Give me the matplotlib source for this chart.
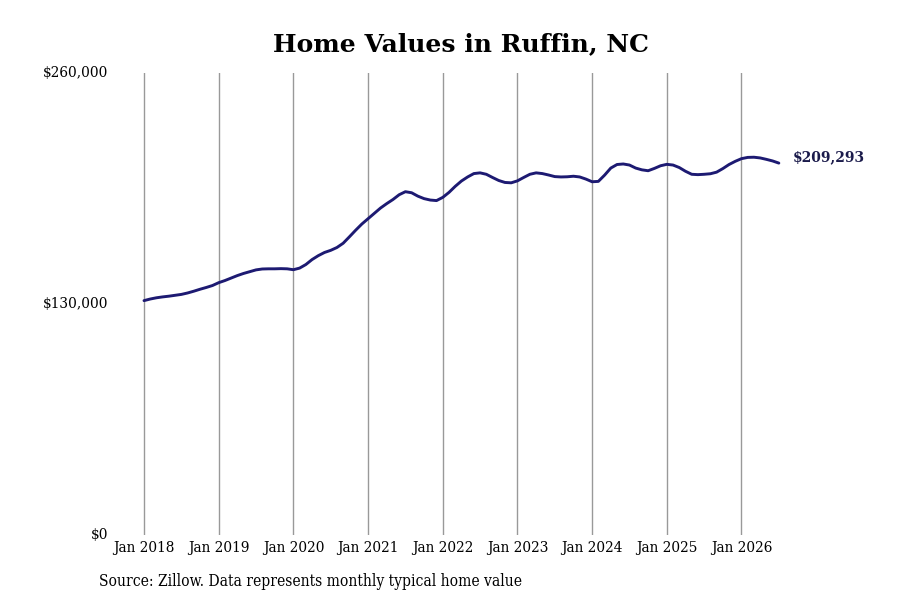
import matplotlib
matplotlib.use("Agg")
import matplotlib.pyplot as plt
from matplotlib import font_manager as fm

# Monthly typical home values, Jan 2018 .. Jul 2026
values = [
    131900, 132800, 133500, 134000, 134400, 134900, 135400, 136200, 137200, 138300, 139300, 140400,
    142000, 143200, 144600, 146000, 147200, 148200, 149200, 149700, 149800, 149800, 149900, 149800,
    149300, 150200, 152200, 155000, 157200, 159000, 160200, 161800, 164200, 167800, 171500, 175000,
    178000, 181000, 184000, 186500, 188800, 191500, 193200, 192600, 190700, 189300, 188500, 188200,
    190000, 192800, 196200, 199200, 201500, 203400, 203800, 203000, 201200, 199500, 198400, 198200,
    199300, 201200, 203000, 203800, 203400, 202600, 201700, 201500, 201600, 201900, 201500, 200300,
    198800, 199000, 202500, 206500, 208500, 208800, 208200, 206500, 205500, 205000, 206300, 207800,
    208600, 208200, 206800, 204700, 203000, 202800, 203000, 203300, 204200, 206200, 208500, 210300,
    211800, 212500, 212600, 212200, 211400, 210500, 209293,
]
tick_labels = ["Jan 2018", "Jan 2019", "Jan 2020", "Jan 2021", "Jan 2022",
               "Jan 2023", "Jan 2024", "Jan 2025", "Jan 2026"]
y_ticks = [0, 130000, 260000]
y_tick_labels = ["$0", "$130,000", "$260,000"]
end_label = "$209,293"
title = "Home Values in Ruffin, NC"
source = "Source: Zillow. Data represents monthly typical home value"

names = {f.name for f in fm.fontManager.ttflist}
cond = "DejaVu Serif Condensed" if "DejaVu Serif Condensed" in names else "DejaVu Serif"
serif = ["DejaVu Serif"]

fig = plt.figure(figsize=(9, 6), dpi=100)
W, H = 900, 600
left, right, top, bottom = 115, 800, 73, 535
ax = fig.add_axes([left / W, 1 - bottom / H, (right - left) / W, (bottom - top) / H])

x = list(range(len(values)))
ax.plot(x, values, color="#1d1a72", lw=2.1, solid_capstyle="round", zorder=3)

ax.set_ylim(0, 260000)
ax.set_xlim(-4.66, 105.4)
ax.set_xticks([12 * i for i in range(len(tick_labels))])
ax.set_xticklabels(tick_labels, fontfamily=cond, fontsize=11, stretch="condensed")
ax.set_yticks(y_ticks)
ax.set_yticklabels(y_tick_labels, fontfamily=cond, fontsize=11, stretch="condensed")
ax.tick_params(axis="both", length=0, colors="black")
ax.tick_params(axis="x", pad=4)
ax.tick_params(axis="y", pad=5)
for lab in ax.get_yticklabels():
    lab.set_verticalalignment("center")
for s in ax.spines.values():
    s.set_visible(False)
ax.grid(axis="x", color="#999999", lw=1.0)
ax.grid(axis="y", visible=False)
ax.set_axisbelow(True)

ax.annotate(end_label, xy=(x[-1], values[-1]), xytext=(10, 4), textcoords="offset points",
            fontfamily=serif, fontweight="bold", fontsize=10, color="#1b1b4b",
            ha="left", va="center")

fig.text(461 / W, 1 - 44 / H, title, fontfamily=serif, fontweight="bold", fontsize=18,
         ha="center", va="center")
fig.text(99 / W, 1 - 581 / H, source, fontfamily=cond, fontsize=11.2, stretch="condensed",
         ha="left", va="center")

fig.savefig("out.png", dpi=100, facecolor="white")
